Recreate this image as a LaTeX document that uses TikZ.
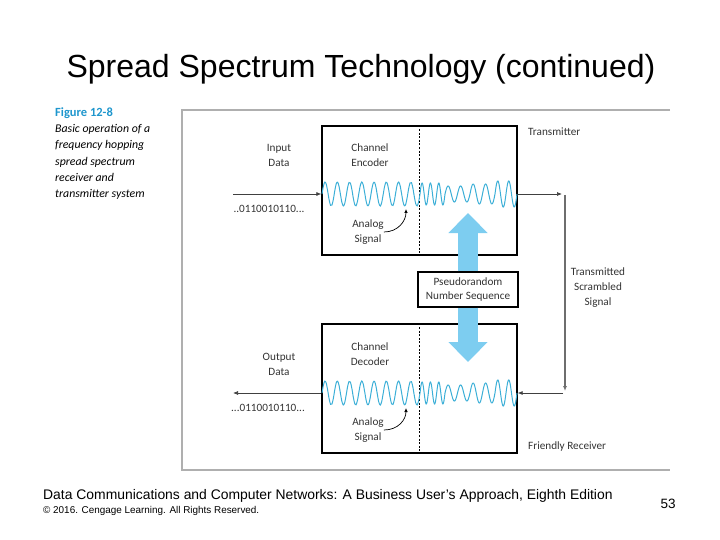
\documentclass[tikz,border=0pt]{standalone}
\usepackage{fontspec}
\setmainfont{Liberation Sans}
\newfontfamily\figfont{Carlito}
\usetikzlibrary{arrows.meta, calc}
\definecolor{wavecyan}  {RGB}{ 60,175,215}
\definecolor{seqblue}   {RGB}{125,205,240}
\definecolor{figblue}   {RGB}{ 30,150,205}
\definecolor{framegray} {RGB}{175,175,175}
\definecolor{linkgray}  {RGB}{110,110,110}
\tikzset{
  unitbox/.style    = {draw, line width=1.3pt, minimum width=195pt, minimum height=129pt, inner sep=0pt},
  divider/.style    = {line width=1.6pt, dash pattern=on 2pt off 1.6pt},
  wave line/.style  = {wavecyan, line width=1pt},
  data arrow/.style = {-{Latex[length=5pt,width=4pt]}, line width=0.7pt, black!75},
  link line/.style  = {-{Latex[length=5pt,width=4pt]}, linkgray, line width=1.8pt},
  seq arrow/.style  = {seqblue, line width=20pt, -{Triangle[length=20pt,width=38pt]}},
  sig pointer/.style= {-{Latex[length=4pt,width=3.5pt]}, line width=0.7pt},
  fig text/.style   = {font=\figfont\fontsize{11.2}{14.8}\selectfont, align=center, inner sep=0pt, text=black!80},
}

\begin{document}
\begin{tikzpicture}[x=1pt, y=-1pt]
  \useasboundingbox (0,0) rectangle (720,540);

  % slide title
  \node (title) at (361,69) {\fontsize{32}{36}\selectfont Spread Spectrum Technology (continued)};

  % ── figure frame and caption ─────────────────────────────────────────────
  \draw[framegray, line width=1.2pt] (670,110) -- (182,110) -- (182,470) -- (670,470);
  \node[anchor=west, inner sep=0pt, text=figblue, font=\figfont\bfseries\fontsize{12.5}{14}\selectfont]
    (figlbl) at (55,113) {Figure 12-8};
  \node[anchor=west, align=left, inner sep=0pt, font=\figfont\itshape\fontsize{11.8}{16.4}\selectfont]
    (caption) at (55,162) {Basic operation of a\\frequency hopping\\spread spectrum\\receiver and\\transmitter system};

  % ── encoder / decoder boxes ──────────────────────────────────────────────
  \node[unitbox] (enc) at (419.5,190.5) {};
  \node[unitbox] (dec) at (419.5,388.5) {};
  \draw[divider] (enc.north) -- (enc.south);
  \draw[divider] (dec.north) -- (dec.south);

  % hopping carrier in both boxes
  \foreach \wy in {194,393}{
    \foreach \xa/\xb/\n/\a in {322/420/8/12, 420/445/3/11, 445/470/2/8,
                               470/495/2/10, 495/517/2/13}{
      \draw[wave line] plot[domain=\xa:\xb, samples=70, smooth]
        (\x, {\wy - \a*sin(360*\n*((\x-\xa)/(\xb-\xa)))});
    }
  }

  \node[fig text] (enctxt) at (370,155.5) {Channel\\Encoder};
  \node[fig text] (dectxt) at (370,354)   {Channel\\Decoder};
  \node[fig text] (encsig) at (368,232)   {Analog\\Signal};
  \node[fig text] (decsig) at (368,430)   {Analog\\Signal};
  \coordinate (encpk) at (406,209);
  \coordinate (decpk) at (406,408);
  \draw[sig pointer] (encsig.east) .. controls +(14,0) and +(0,12) .. (encpk);
  \draw[sig pointer] (decsig.east) .. controls +(14,0) and +(0,12) .. (decpk);

  % ── data in / out ────────────────────────────────────────────────────────
  \node[fig text] (indata)  at (279,155.5) {Input\\Data};
  \node[fig text] (outdata) at (279,364.5) {Output\\Data};
  \node[fig text] (inbits)  at (269,209)   {..0110010110...};
  \node[fig text] (outbits) at (268,408)   {...0110010110...};
  \coordinate (inL)  at (233,194);
  \coordinate (outL) at (233,393);
  \draw[data arrow] (inL) -- (enc.west |- inL);
  \draw[data arrow] (dec.west |- outL) -- (outL);

  % ── transmitted signal path ──────────────────────────────────────────────
  \coordinate (txR)  at (562,194);
  \coordinate (lnkT) at (565,195);
  \coordinate (lnkB) at (565,391);
  \coordinate (rxR)  at (563,393);
  \draw[data arrow] (enc.east |- txR) -- (txR);
  \draw[link line] (lnkT) -- (lnkB);
  \draw[data arrow] (rxR) -- (dec.east |- rxR);

  \node[fig text, anchor=west] (txlbl) at (528,132) {Transmitter};
  \node[fig text, anchor=west] (rxlbl) at (528,447) {Friendly Receiver};
  \node[fig text] (scrlbl) at (598,287.5) {Transmitted\\Scrambled\\Signal};

  % ── pseudorandom sequence ────────────────────────────────────────────────
  \node[draw, line width=1.3pt, fill=white, minimum width=100pt, minimum height=35pt,
        fig text] (prng) at (468,289.5) {Pseudorandom\\Number Sequence};
  \coordinate (seqT) at (468,213);
  \coordinate (seqB) at (468,362);
  \draw[seq arrow] (prng.north) -- (seqT);
  \draw[seq arrow] (prng.south) -- (seqB);

  % ── footer ───────────────────────────────────────────────────────────────
  \node[anchor=west, inner sep=0pt] (footer) at (43,496)
    {\fontsize{13.9}{16}\selectfont Data Communications and Computer Networks: A Business User's Approach, Eighth Edition};
  \node[anchor=west, inner sep=0pt] (copy) at (43,511)
    {\fontsize{9.9}{11}\selectfont \textcopyright{} 2016. Cengage Learning. All Rights Reserved.};
  \node (pageno) at (668,504) {\fontsize{13.5}{15}\selectfont 53};

\end{tikzpicture}
\end{document}
